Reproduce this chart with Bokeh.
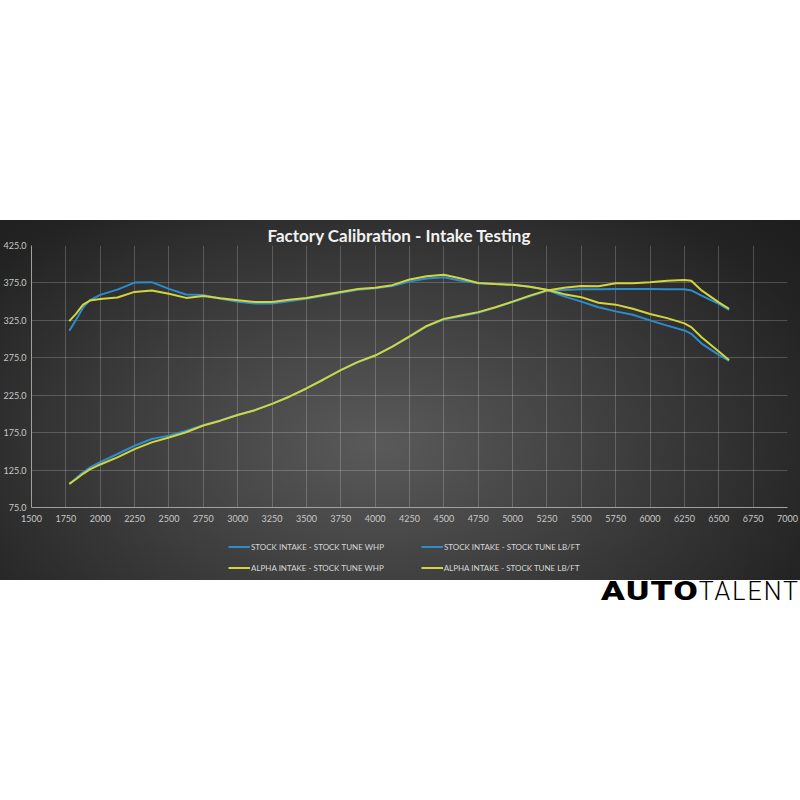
from bokeh.plotting import figure
from bokeh.models import (Range1d, FixedTicker, PrintfTickFormatter, Legend,
                          LegendItem, Div, Spacer)
from bokeh.layouts import column
from bokeh.embed import file_html
from bokeh.resources import INLINE

# ---------------- data ----------------
rpm = [1775, 1825, 1875, 1925, 2000, 2125, 2250, 2375, 2500, 2625, 2750, 2875,
       3000, 3125, 3250, 3375, 3500, 3625, 3750, 3875, 4000, 4125, 4250, 4375,
       4500, 4625, 4750, 4875, 5000, 5125, 5250, 5375, 5500, 5625, 5750, 5875,
       6000, 6125, 6250, 6300, 6375, 6500, 6575]

stock_whp = [106.5, 114, 122, 128.5, 135.5, 146.5, 157.5, 166.5, 171, 177.5, 185, 191.5,
             199, 205, 213.5, 223, 234, 246, 258.5, 269, 278, 290, 303, 317,
             326, 330.5, 335, 342, 349.5, 357, 364.5, 365.5, 366.5, 366.5, 367, 367,
             367, 366.5, 366.5, 365, 358, 347, 339]

stock_tq = [311, 326, 342, 352, 359, 366, 375.5, 376, 367, 359.5, 359, 354,
            350, 347.5, 347.5, 350.5, 354, 358, 362, 366, 368, 371, 377, 381,
            382.5, 378, 374.5, 373.5, 372.5, 370, 365.5, 357, 350, 342.5, 337, 332.5,
            325, 318, 311.5, 307, 294, 279, 271]

alpha_whp = [106.5, 113, 120, 126, 132.5, 142, 153, 162, 168.5, 175.5, 184.5, 191,
             198.5, 205, 213.5, 223, 234, 246, 258.5, 269.5, 278, 290, 303.5, 317.5,
             327, 331.5, 336, 342.5, 350, 358, 365, 368.5, 371, 370.5, 374.5, 374.5,
             376, 378, 379, 378, 365, 349, 340.5]

alpha_tq = [324, 334, 346, 351.5, 353.5, 355.5, 363, 365, 360.5, 355, 357.5, 354.5,
            352, 349.5, 349.5, 352.5, 355, 359, 363, 367, 368.5, 372, 379.5, 384,
            386, 381, 375, 373.5, 372.5, 370, 366, 360, 356, 348.5, 346, 340.5,
            333.5, 328, 321, 316, 302.5, 283.5, 272]

x_ticks = [1500, 1750, 2000, 2250, 2500, 2750, 3000, 3250, 3500, 3750, 4000, 4250,
           4500, 4750, 5000, 5250, 5500, 5750, 6000, 6250, 6500, 6750, 7000]
y_ticks = [75, 125, 175, 225, 275, 325, 375, 425]

title_text = "Factory Calibration - Intake Testing"
names = ["STOCK INTAKE - STOCK TUNE WHP", "STOCK INTAKE - STOCK TUNE LB/FT",
         "ALPHA INTAKE - STOCK TUNE WHP", "ALPHA INTAKE - STOCK TUNE LB/FT"]

BLUE = "#2e8bcc"
YELLOW = "#d2d63c"
FONT = "Lato"

# ---------------- chart figure ----------------
p = figure(width=800, height=310, output_backend="svg", toolbar_location=None,
           x_range=Range1d(1500, 7000), y_range=Range1d(75, 425),
           min_border_left=31, min_border_right=13, min_border_top=25,
           min_border_bottom=23, title=title_text)
p.background_fill_color = None
p.border_fill_color = None
p.outline_line_color = None

p.title.align = "left"
p.title.offset = 236
p.title.standoff = 0
p.title.text_color = "#f2f2f2"
p.title.text_font = FONT
p.title.text_font_style = "bold"
p.title.text_font_size = "17px"

for ax in (p.xaxis[0], p.yaxis[0]):
    ax.major_tick_line_color = None
    ax.minor_tick_line_color = None
    ax.major_tick_out = 0
    ax.major_tick_in = 0
    ax.minor_tick_out = 0
    ax.minor_tick_in = 0
    ax.axis_line_color = "#a0a0a0"
    ax.axis_line_width = 1
    ax.major_label_text_color = "#c8c8c8"
    ax.major_label_text_font = FONT
    ax.major_label_text_font_size = "9px"

p.xaxis.ticker = FixedTicker(ticks=x_ticks)
p.xaxis.major_label_standoff = 7
p.yaxis.ticker = FixedTicker(ticks=y_ticks)
p.yaxis.formatter = PrintfTickFormatter(format="%.1f")
p.yaxis.major_label_standoff = 5

p.xgrid.ticker = FixedTicker(ticks=x_ticks)
p.ygrid.ticker = FixedTicker(ticks=y_ticks)
for g in (p.xgrid[0], p.ygrid[0]):
    g.grid_line_color = "#ffffff"
    g.grid_line_alpha = 0.2

p.line(rpm, stock_whp, line_color=BLUE, line_width=2)
p.line(rpm, stock_tq, line_color=BLUE, line_width=2)
p.line(rpm, alpha_whp, line_color=YELLOW, line_width=2)
p.line(rpm, alpha_tq, line_color=YELLOW, line_width=2)

# ---------------- legend strip (series kept out of its view; only the key shows) ----
lg = figure(width=800, height=50, output_backend="svg", toolbar_location=None,
            x_range=Range1d(0, 1), y_range=Range1d(0, 1),
            x_axis_type=None, y_axis_type=None, min_border=0)
lg.background_fill_color = None
lg.border_fill_color = None
lg.outline_line_color = None
lg.grid.visible = False

k_sw = lg.line(rpm, stock_whp, line_color=BLUE, line_width=2)
k_st = lg.line(rpm, stock_tq, line_color=BLUE, line_width=2)
k_aw = lg.line(rpm, alpha_whp, line_color=YELLOW, line_width=2)
k_at = lg.line(rpm, alpha_tq, line_color=YELLOW, line_width=2)


def make_legend(items, loc):
    return Legend(items=items, orientation="horizontal", location=loc,
                  glyph_width=22, glyph_height=13, label_height=13,
                  label_standoff=1, spacing=37, padding=0, margin=0,
                  background_fill_alpha=0, border_line_alpha=0,
                  label_text_color="#d6d6d6", label_text_font=FONT,
                  label_text_font_size="8px")


lg.add_layout(make_legend([LegendItem(label=names[0], renderers=[k_sw]),
                           LegendItem(label=names[1], renderers=[k_st])], (197, 27)))
lg.add_layout(make_legend([LegendItem(label=names[2], renderers=[k_aw]),
                           LegendItem(label=names[3], renderers=[k_at])], (197, 6)))

panel = column(p, lg, spacing=0, width=800, height=360,
               styles={"background": "radial-gradient(ellipse 70% 95% at 47% 62%, "
                                     "#5a5a5a 0%, #3d3d3d 45%, #232323 85%, #1d1d1d 100%)"})

logo = Div(text=('<div style="width:795px;text-align:right;font-family:Roboto,sans-serif;'
                 'font-size:25px;line-height:20px;color:#000;white-space:nowrap;'
                 'position:relative;top:-3px;">'
                 '<span style="display:inline-block;font-weight:900;letter-spacing:1px;'
                 'transform:scaleX(1.4);transform-origin:right;">AUTO</span>'
                 '<span style="font-weight:300;letter-spacing:2px;">TALENT</span></div>'),
           width=800, height=26)

layout = column(Spacer(width=800, height=220), panel, logo)

open("out.html", "w").write(file_html(layout, INLINE))
